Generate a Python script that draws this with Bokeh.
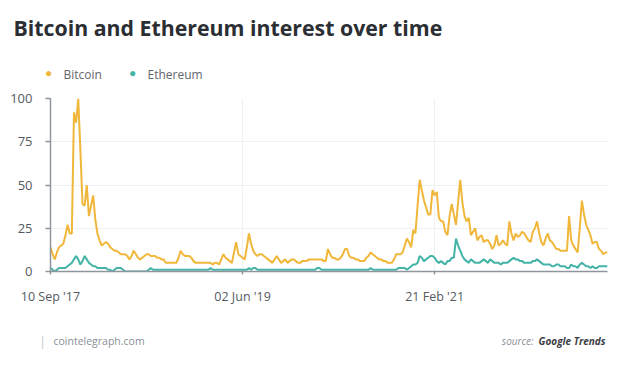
import pandas as pd
from bokeh.plotting import figure
from bokeh.models import Range1d, FixedTicker, DatetimeTickFormatter, Label, ColumnDataSource
from bokeh.embed import file_html
from bokeh.resources import INLINE

start_date = "2017-09-10"
tick_dates = ["2017-09-10", "2019-06-02", "2021-02-21"]
y_ticks = [0, 25, 50, 75, 100]

bitcoin = [
    14, 10, 7, 11, 14, 15, 16, 21, 27, 22,
    22, 92, 86, 100, 70, 39, 38, 50, 32, 38,
    44, 30, 22, 18, 15, 16, 17, 16, 14, 13,
    12, 12, 11, 10, 10, 10, 9, 7, 9, 12,
    10, 8, 7, 8, 9, 10, 10, 9, 9, 9,
    8, 8, 7, 7, 5, 5, 5, 5, 5, 5,
    8, 12, 10, 9, 9, 9, 8, 6, 5, 5,
    5, 5, 5, 5, 5, 5, 4, 5, 5, 4,
    7, 10, 8, 7, 6, 5, 11, 17, 10, 9,
    8, 7, 14, 22, 16, 12, 10, 9, 10, 10,
    9, 8, 7, 6, 5, 7, 9, 7, 5, 6,
    7, 5, 6, 7, 7, 6, 5, 5, 6, 6,
    6, 7, 7, 7, 7, 7, 7, 7, 6, 6,
    13, 10, 8, 8, 7, 7, 8, 10, 13, 13,
    9, 8, 8, 7, 7, 6, 6, 6, 8, 9,
    11, 10, 9, 8, 7, 7, 6, 6, 5, 5,
    5, 7, 10, 10, 10, 11, 15, 19, 17, 14,
    24, 22, 38, 53, 47, 41, 37, 33, 33, 47,
    44, 46, 31, 29, 29, 23, 21, 32, 39, 33,
    27, 40, 53, 40, 32, 29, 31, 21, 23, 25,
    18, 20, 21, 17, 18, 18, 16, 13, 15, 21,
    15, 16, 18, 16, 15, 29, 22, 18, 22, 20,
    21, 23, 22, 20, 18, 17, 23, 25, 29, 22,
    17, 15, 19, 22, 18, 17, 15, 13, 13, 12,
    12, 12, 12, 32, 18, 15, 13, 11, 25, 41,
    33, 27, 24, 21, 16, 17, 17, 13, 12, 10,
    11, 11,
]

ethereum = [
    2, 1, 0, 1, 2, 2, 2, 2, 3, 4,
    5, 7, 9, 7, 4, 6, 9, 7, 5, 4,
    3, 3, 2, 2, 2, 2, 2, 1, 1, 0,
    1, 2, 2, 2, 1, 0, 0, 0, 0, 0,
    0, 0, 0, 0, 0, 0, 1, 2, 1, 1,
    1, 1, 1, 1, 1, 1, 1, 1, 1, 1,
    1, 1, 1, 1, 1, 1, 1, 1, 1, 1,
    1, 1, 1, 1, 1, 2, 1, 1, 1, 1,
    1, 1, 1, 1, 1, 1, 1, 1, 1, 1,
    1, 1, 1, 2, 1, 2, 2, 1, 1, 1,
    1, 1, 1, 1, 1, 1, 1, 1, 1, 1,
    1, 1, 1, 1, 1, 1, 1, 1, 1, 1,
    1, 1, 1, 1, 1, 2, 2, 1, 1, 1,
    1, 1, 1, 1, 1, 1, 1, 1, 1, 1,
    1, 1, 1, 1, 1, 1, 1, 1, 1, 1,
    2, 1, 1, 1, 1, 1, 1, 1, 1, 1,
    1, 1, 1, 2, 2, 2, 2, 1, 2, 3,
    4, 4, 5, 9, 8, 6, 7, 8, 9, 9,
    8, 6, 5, 6, 5, 4, 6, 6, 8, 8,
    19, 15, 12, 9, 7, 6, 5, 7, 6, 5,
    5, 5, 6, 7, 6, 5, 7, 6, 5, 5,
    5, 4, 5, 5, 5, 6, 7, 8, 7, 7,
    6, 6, 5, 5, 5, 5, 6, 6, 7, 6,
    5, 4, 4, 4, 4, 3, 3, 4, 4, 3,
    3, 3, 2, 2, 4, 3, 3, 2, 4, 5,
    4, 3, 3, 2, 3, 2, 2, 3, 3, 3,
    3, 3,
]

BTC_COLOR = "#F0B73A"
ETH_COLOR = "#45B4A8"
FONT = "Open Sans"

dates = pd.date_range(start_date, periods=len(bitcoin), freq="7D")
src = ColumnDataSource(dict(date=dates, btc=bitcoin, eth=ethereum))

W, H = 627, 376
FL, FR, FT, FB = 50, 607, 98, 271

p = figure(width=W, height=H, output_backend="svg", toolbar_location=None,
           x_axis_type="datetime",
           min_border_left=FL, min_border_right=W - FR,
           min_border_top=FT, min_border_bottom=H - FB)
p.outline_line_color = None
p.background_fill_color = "white"
p.border_fill_color = "white"

p.x_range = Range1d(dates[0], dates[-1])
p.y_range = Range1d(0, 100)

p.line("date", "eth", source=src, color=ETH_COLOR, line_width=2)
p.line("date", "btc", source=src, color=BTC_COLOR, line_width=2)

tick_ms = [pd.Timestamp(d).value // 10**6 for d in tick_dates]
p.xaxis.ticker = FixedTicker(ticks=tick_ms)
fmt = "%d %b '%y"
p.xaxis.formatter = DatetimeTickFormatter(
    milliseconds=fmt, seconds=fmt, minsec=fmt, minutes=fmt, hourmin=fmt,
    hours=fmt, days=fmt, months=fmt, years=fmt)
p.yaxis.ticker = FixedTicker(ticks=y_ticks)

for ax in (p.xaxis, p.yaxis):
    ax.axis_line_color = "#8E959D"
    ax.axis_line_width = 1.5
    ax.major_tick_line_color = "#8E959D"
    ax.major_tick_line_width = 1.5
    ax.minor_tick_line_color = None
    ax.major_tick_in = 0
    ax.major_label_text_font = FONT
    ax.major_label_text_font_size = "12.5px"
    ax.major_label_text_color = "#555a60"
p.yaxis.major_label_text_font_size = "13px"
p.yaxis.major_tick_out = 5
p.yaxis.major_label_standoff = 13
p.xaxis.major_tick_out = 3
p.xaxis.major_label_standoff = 13

p.xgrid.grid_line_color = "#eef0f3"
p.ygrid.grid_line_color = "#eef0f3"
p.xgrid.ticker = FixedTicker(ticks=tick_ms)
p.ygrid.ticker = FixedTicker(ticks=[25, 50, 75, 100])


# Labels outside the frame live in the side panels; each one takes a stacked slot,
# so every label gets the canvas y of its own slot edge (slot_base).
def add_text(panel, slot_base, x, y, text, size, color, style="normal",
             align="left", baseline="middle"):
    p.add_layout(Label(x=x - FL, y=slot_base - y, x_units="screen", y_units="screen",
                       text=text, text_font=FONT, text_font_size=size,
                       text_color=color, text_font_style=style,
                       text_align=align, text_baseline=baseline), panel)


TXT = "#62666c"
add_text("above", 98, 63, 74, "Bitcoin", "12px", TXT, baseline="alphabetic")
add_text("above", 81, 147, 74, "Ethereum", "12px", TXT, baseline="alphabetic")
add_text("above", 64, 48, 72, "●", "12px", BTC_COLOR, align="center")
add_text("above", 47, 132, 72, "●", "12px", ETH_COLOR, align="center")
add_text("above", 30, 13, 27, "Bitcoin and Ethereum interest over time", "21.3px",
         "#2b2e33", "bold", baseline="alphabetic")

add_text("below", 323, 42, 340, "|", "12px", "#c2c6cc", align="center")
add_text("below", 338, 53, 340, "cointelegraph.com", "10.5px", "#8a8f96")
add_text("below", 352, 533, 340, "source:", "10px", "#8a8f96", "italic", align="right")
add_text("below", 366, 605, 340, "Google Trends", "10px", "#3c4046", "bold italic",
         align="right")

open("out.html", "w").write(file_html(p, INLINE))
